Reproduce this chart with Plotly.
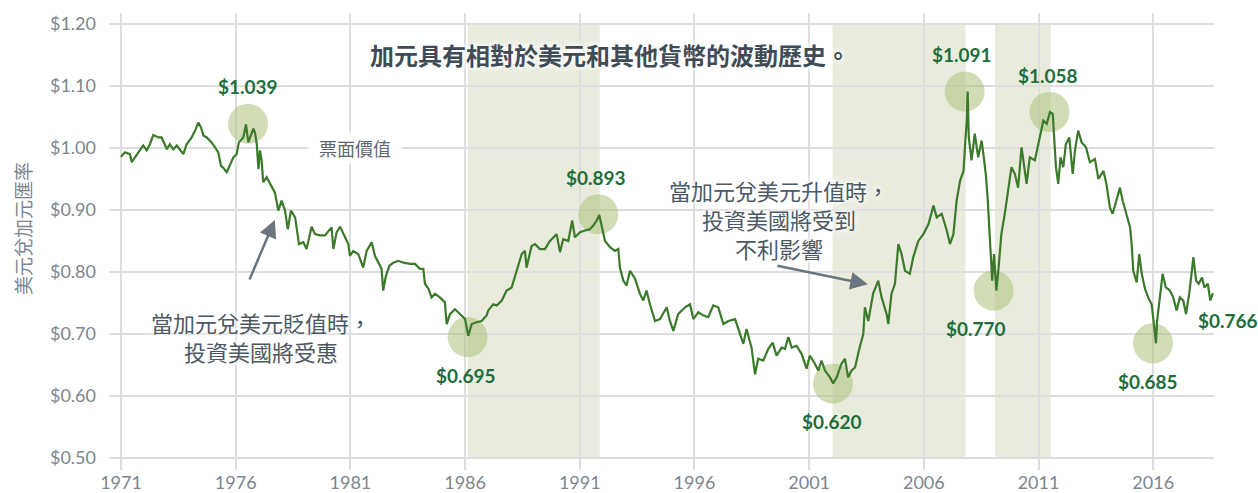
import plotly.graph_objects as go

# ---------------- data ----------------
years = [
    1971.00, 1971.17, 1971.39, 1971.47, 1971.61, 1971.75, 1971.97, 1972.12, 1972.26, 1972.41,
    1972.63, 1972.77, 1972.92, 1973.00, 1973.13, 1973.28, 1973.43, 1973.57, 1973.72, 1973.86,
    1974.08, 1974.23, 1974.37, 1974.49, 1974.59, 1974.74, 1974.95, 1975.10, 1975.24, 1975.36,
    1975.46, 1975.61, 1975.75, 1975.90, 1976.04, 1976.14, 1976.33, 1976.45, 1976.55, 1976.67,
    1976.77, 1976.84, 1976.92, 1976.99, 1977.06, 1977.13, 1977.20, 1977.35, 1977.50, 1977.71,
    1977.86, 1978.00, 1978.15, 1978.27, 1978.41, 1978.59, 1978.76, 1978.95, 1979.09, 1979.31,
    1979.46, 1979.67, 1979.89, 1980.18, 1980.26, 1980.40, 1980.55, 1980.69, 1980.91, 1980.98,
    1981.13, 1981.34, 1981.56, 1981.71, 1981.93, 1982.07, 1982.22, 1982.36, 1982.43, 1982.55,
    1982.70, 1982.87, 1983.09, 1983.31, 1983.60, 1983.82, 1984.03, 1984.18, 1984.25, 1984.40,
    1984.54, 1984.69, 1984.90, 1985.12, 1985.20, 1985.34, 1985.56, 1985.78, 1986.00, 1986.14,
    1986.29, 1986.51, 1986.72, 1986.94, 1987.01, 1987.23, 1987.38, 1987.60, 1987.81, 1988.03,
    1988.25, 1988.47, 1988.61, 1988.68, 1988.90, 1989.05, 1989.26, 1989.48, 1989.70, 1989.99,
    1990.14, 1990.28, 1990.50, 1990.67, 1990.79, 1991.01, 1991.23, 1991.44, 1991.59, 1991.74,
    1991.85, 1991.96, 1992.10, 1992.32, 1992.53, 1992.68, 1992.75, 1992.90, 1993.04, 1993.19,
    1993.41, 1993.62, 1993.77, 1993.91, 1994.06, 1994.28, 1994.50, 1994.79, 1994.93, 1995.08,
    1995.29, 1995.59, 1995.81, 1995.95, 1996.17, 1996.38, 1996.60, 1996.82, 1997.04, 1997.26,
    1997.48, 1997.77, 1997.98, 1998.13, 1998.27, 1998.49, 1998.64, 1998.78, 1999.00, 1999.22,
    1999.41, 1999.58, 1999.80, 1999.95, 2000.09, 2000.24, 2000.45, 2000.67, 2000.89, 2001.03,
    2001.25, 2001.40, 2001.54, 2001.69, 2001.91, 2002.05, 2002.20, 2002.41, 2002.56, 2002.70,
    2002.85, 2003.00, 2003.18, 2003.36, 2003.43, 2003.58, 2003.79, 2004.01, 2004.16, 2004.38,
    2004.45, 2004.59, 2004.74, 2004.89, 2005.03, 2005.18, 2005.39, 2005.54, 2005.76, 2005.98,
    2006.20, 2006.42, 2006.56, 2006.78, 2007.00, 2007.14, 2007.29, 2007.43, 2007.58, 2007.73,
    2007.80, 2007.87, 2007.91, 2007.96, 2008.08, 2008.22, 2008.37, 2008.52, 2008.63, 2008.70,
    2008.78, 2008.85, 2008.92, 2008.98, 2009.06, 2009.16, 2009.26, 2009.38, 2009.53, 2009.67,
    2009.82, 2009.97, 2010.11, 2010.26, 2010.33, 2010.48, 2010.62, 2010.84, 2010.99, 2011.21,
    2011.36, 2011.50, 2011.62, 2011.67, 2011.76, 2011.86, 2011.96, 2012.08, 2012.19, 2012.34,
    2012.49, 2012.59, 2012.73, 2012.88, 2013.07, 2013.24, 2013.46, 2013.61, 2013.83, 2013.96,
    2014.11, 2014.23, 2014.40, 2014.55, 2014.67, 2014.84, 2014.99, 2015.06, 2015.13, 2015.28,
    2015.39, 2015.50, 2015.64, 2015.78, 2015.93, 2016.03, 2016.12, 2016.17, 2016.29, 2016.41,
    2016.55, 2016.73, 2016.87, 2017.02, 2017.16, 2017.31, 2017.43, 2017.57, 2017.67, 2017.75,
    2017.87, 2017.98, 2018.13, 2018.23, 2018.38, 2018.49, 2018.60,
]
rates = [
    0.986, 0.993, 0.990, 0.977, 0.985, 0.993, 1.004, 0.996, 1.006, 1.021,
    1.017, 1.017, 1.004, 0.998, 1.006, 0.998, 1.004, 0.998, 0.990, 1.006,
    1.017, 1.028, 1.041, 1.033, 1.020, 1.017, 1.009, 1.001, 0.993, 0.971,
    0.968, 0.961, 0.974, 0.985, 0.990, 1.009, 1.017, 1.038, 1.009, 1.020,
    1.031, 1.025, 1.006, 0.966, 0.996, 0.980, 0.945, 0.953, 0.942, 0.928,
    0.899, 0.915, 0.899, 0.869, 0.899, 0.888, 0.845, 0.848, 0.837, 0.873,
    0.861, 0.859, 0.859, 0.872, 0.837, 0.864, 0.873, 0.861, 0.845, 0.826,
    0.834, 0.829, 0.807, 0.834, 0.848, 0.826, 0.815, 0.805, 0.770, 0.794,
    0.810, 0.815, 0.818, 0.815, 0.813, 0.813, 0.805, 0.805, 0.781, 0.773,
    0.759, 0.765, 0.759, 0.751, 0.716, 0.732, 0.740, 0.732, 0.724, 0.697,
    0.716, 0.719, 0.721, 0.730, 0.738, 0.748, 0.746, 0.754, 0.770, 0.775,
    0.802, 0.829, 0.834, 0.807, 0.842, 0.845, 0.837, 0.837, 0.850, 0.861,
    0.832, 0.853, 0.850, 0.883, 0.856, 0.864, 0.867, 0.869, 0.875, 0.883,
    0.892, 0.872, 0.850, 0.840, 0.834, 0.837, 0.807, 0.786, 0.778, 0.802,
    0.789, 0.765, 0.754, 0.770, 0.748, 0.721, 0.724, 0.743, 0.721, 0.705,
    0.732, 0.743, 0.748, 0.724, 0.735, 0.730, 0.727, 0.746, 0.743, 0.716,
    0.721, 0.724, 0.700, 0.684, 0.708, 0.678, 0.635, 0.660, 0.657, 0.676,
    0.686, 0.665, 0.678, 0.676, 0.695, 0.678, 0.681, 0.668, 0.644, 0.665,
    0.652, 0.641, 0.657, 0.641, 0.630, 0.620, 0.630, 0.652, 0.660, 0.630,
    0.641, 0.646, 0.675, 0.700, 0.743, 0.721, 0.765, 0.786, 0.759, 0.732,
    0.716, 0.765, 0.781, 0.845, 0.829, 0.802, 0.797, 0.824, 0.850, 0.861,
    0.877, 0.907, 0.888, 0.894, 0.867, 0.845, 0.861, 0.915, 0.947, 0.963,
    1.006, 1.044, 1.091, 1.017, 0.980, 1.023, 0.985, 1.012, 0.980, 0.958,
    0.920, 0.867, 0.824, 0.786, 0.829, 0.770, 0.807, 0.861, 0.894, 0.931,
    0.969, 0.958, 0.936, 1.001, 0.980, 0.942, 0.985, 0.980, 1.006, 1.044,
    1.039, 1.058, 1.055, 1.017, 0.969, 0.942, 0.985, 0.969, 1.006, 1.017,
    0.958, 0.996, 1.028, 1.009, 1.001, 0.977, 0.982, 0.950, 0.963, 0.942,
    0.904, 0.894, 0.915, 0.936, 0.915, 0.894, 0.872, 0.845, 0.802, 0.783,
    0.829, 0.797, 0.773, 0.759, 0.748, 0.716, 0.685, 0.721, 0.765, 0.797,
    0.775, 0.770, 0.759, 0.738, 0.759, 0.754, 0.732, 0.765, 0.797, 0.824,
    0.786, 0.781, 0.791, 0.775, 0.781, 0.754, 0.766,
]

band_starts = [1986.11, 2002.02, 2009.10]
band_ends = [1991.87, 2007.82, 2011.53]

peak_years = [1976.54, 1986.11, 1991.81, 2002.04, 2007.78, 2009.04, 2011.48, 2015.99]
peak_values = [1.039, 0.695, 0.893, 0.620, 1.091, 0.770, 1.058, 0.685]
peak_sides = ["above", "below", "above", "below", "above", "below", "above", "below"]
peak_xshift = [0, -2, -2, -1, -3, -18, -2, -5]

end_label_value = 0.766

x_ticks = [1971, 1976, 1981, 1986, 1991, 1996, 2001, 2006, 2011, 2016]
y_ticks = [0.50, 0.60, 0.70, 0.80, 0.90, 1.00, 1.10, 1.20]
y_tick_labels = ["$0.50", "$0.60", "$0.70", "$0.80", "$0.90", "$1.00", "$1.10", "$1.20"]

par_value = 1.00
par_label = "票面價值"
title_text = "加元具有相對於美元和其他貨幣的波動歷史。"
y_title = "美元兌加元匯率"
note_weak_lines = ["當加元兌美元貶值時，", "投資美國將受惠"]
note_strong_lines = ["當加元兌美元升值時，", "投資美國將受到", "不利影響"]

# ---------------- styles / placement ----------------
LATIN = "Lato, 'Noto Sans CJK TC', sans-serif"
CJK = "'Noto Sans CJK TC', Lato, sans-serif"
LINE_COLOR = "#3b7a2b"
LABEL_COLOR = "#1d6e3c"
BAND_COLOR = "#e9ecdd"
GRID_COLOR = "#dedede"
AXIS_TEXT = "#7d868e"
NOTE_TEXT = "#4d5964"
GLOW = "0px 0px 4px white, 0px 0px 6px white, 0px 0px 8px white"

PLOT_L, PLOT_R, PLOT_T, PLOT_B = 109, 1214, 13, 470
NOTE_SIZE = 22
NOTE_STEP = 29


def px_to_paper(px, py):
    return (px - PLOT_L) / (PLOT_R - PLOT_L), (PLOT_B - py) / (PLOT_B - PLOT_T)


fig = go.Figure()

# highlight circles (under the line)
fig.add_trace(go.Scatter(
    x=peak_years, y=peak_values, mode="markers",
    marker=dict(size=40, color="rgba(165,188,112,0.5)", line=dict(width=0)),
    hoverinfo="skip", showlegend=False,
))

# exchange rate line
fig.add_trace(go.Scatter(
    x=years, y=rates, mode="lines",
    line=dict(color=LINE_COLOR, width=2.2),
    showlegend=False,
))

shapes = []
for s, e in zip(band_starts, band_ends):
    shapes.append(dict(type="rect", xref="x", yref="y", x0=s, x1=e, y0=0.50, y1=1.20,
                       fillcolor=BAND_COLOR, line=dict(width=0), layer="below"))
shapes.append(dict(type="line", xref="paper", yref="y", x0=0, x1=1, y0=par_value, y1=par_value,
                   line=dict(color="#7f8990", width=1.5), layer="between"))

annotations = []
for yr, v, side, xs in zip(peak_years, peak_values, peak_sides, peak_xshift):
    annotations.append(dict(
        x=yr, y=v, xref="x", yref="y", text=f"<b>${v:.3f}</b>", showarrow=False,
        xanchor="center", yanchor="middle",
        xshift=xs, yshift=37 if side == "above" else -38,
        font=dict(family=LATIN, size=19, color=LABEL_COLOR),
    ))
annotations.append(dict(
    x=years[-1], y=end_label_value, xref="x", yref="y", text=f"<b>${end_label_value:.3f}</b>",
    showarrow=False, xanchor="left", yanchor="middle", xshift=-17, yshift=-27,
    font=dict(family=LATIN, size=19, color=LABEL_COLOR),
))

# par value label
annotations.append(dict(
    x=1981.2, y=par_value, xref="x", yref="y",
    text="&nbsp;&nbsp;" + par_label + "&nbsp;&nbsp;",
    showarrow=False, bgcolor="white", borderpad=2, xanchor="center", yanchor="middle",
    font=dict(family=CJK, size=18, color="#5d6871"),
))

# title
tx, ty = px_to_paper(610, 55)
annotations.append(dict(
    x=tx, y=ty, xref="paper", yref="paper", text=f"<b>{title_text}</b>", showarrow=False,
    xanchor="center", yanchor="middle",
    font=dict(family=CJK, size=24, color="#3f4b55", shadow=GLOW),
))

# y axis title
yx, yy = px_to_paper(22, 229)
annotations.append(dict(
    x=yx, y=yy, xref="paper", yref="paper", text=y_title, showarrow=False,
    xanchor="center", yanchor="middle",
    textangle=-90, font=dict(family=CJK, size=19, color=AXIS_TEXT),
))

# notes, one annotation per line
for lines, cx, cy_mid in ((note_weak_lines, 261, 336), (note_strong_lines, 779, 219)):
    first = cy_mid - NOTE_STEP * (len(lines) - 1) / 2
    for i, line in enumerate(lines):
        nx, ny = px_to_paper(cx, first + NOTE_STEP * i)
        annotations.append(dict(
            x=nx, y=ny, xref="paper", yref="paper", text=line, showarrow=False,
            xanchor="center", yanchor="middle",
            font=dict(family=CJK, size=NOTE_SIZE, color=NOTE_TEXT, shadow=GLOW),
        ))

# arrows
annotations.append(dict(
    x=1977.71, y=0.884, xref="x", yref="y", text="", showarrow=True,
    ax=-26, ay=61, arrowhead=2, arrowsize=1.4, arrowwidth=2.5, arrowcolor="#6b757e", standoff=0,
))
annotations.append(dict(
    x=2003.56, y=0.780, xref="x", yref="y", text="", showarrow=True,
    ax=-92, ay=-19, arrowhead=2, arrowsize=1.4, arrowwidth=2.5, arrowcolor="#6b757e", standoff=0,
))

fig.update_layout(
    width=1258, height=493,
    margin=dict(l=PLOT_L, r=1258 - PLOT_R, t=PLOT_T, b=493 - PLOT_B, autoexpand=False),
    paper_bgcolor="white", plot_bgcolor="white",
    shapes=shapes, annotations=annotations,
    xaxis=dict(range=[1970.477, 2018.65], tickmode="array", tickvals=x_ticks,
               ticktext=[str(t) for t in x_ticks],
               showgrid=True, gridcolor=GRID_COLOR, gridwidth=1.5, zeroline=False,
               showline=False, ticks="", automargin=False,
               tickfont=dict(family=LATIN, size=18, color=AXIS_TEXT)),
    yaxis=dict(range=[0.4806, 1.2177], tickmode="array", tickvals=y_ticks, ticktext=y_tick_labels,
               showgrid=True, gridcolor=GRID_COLOR, gridwidth=1.5, zeroline=False,
               showline=False, ticks="", automargin=False, ticklabelstandoff=12,
               tickfont=dict(family=LATIN, size=18, color=AXIS_TEXT)),
    showlegend=False,
)

fig.write_html("out.html", config={"displayModeBar": False},
               post_script="document.body.style.margin='0';")
